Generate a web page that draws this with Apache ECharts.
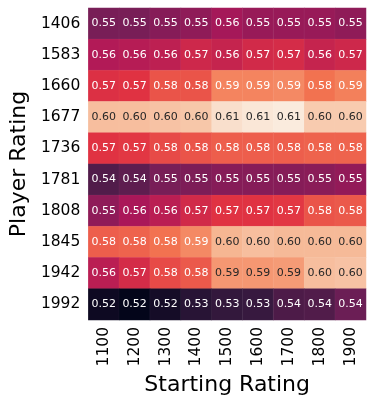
<!DOCTYPE html>
<html>
<head>
<meta charset="utf-8">
<script src="https://cdn.jsdelivr.net/npm/echarts@6/dist/echarts.min.js"></script>
<style>
html,body{margin:0;padding:0;background:#fff;}
#chart{width:374px;height:405px;}
</style>
</head>
<body>
<div id="chart"></div>
<script>
const startingRatings = ['1100','1200','1300','1400','1500','1600','1700','1800','1900'];
const playerRatings = ['1406','1583','1660','1677','1736','1781','1808','1845','1942','1992'];
const row1406 = [0.546,0.546,0.549,0.551,0.556,0.553,0.553,0.553,0.551];
const row1583 = [0.559,0.560,0.562,0.566,0.564,0.567,0.568,0.564,0.566];
const row1660 = [0.570,0.571,0.578,0.578,0.588,0.588,0.589,0.584,0.587];
const row1677 = [0.601,0.601,0.602,0.603,0.609,0.611,0.612,0.604,0.604];
const row1736 = [0.571,0.572,0.576,0.578,0.580,0.580,0.580,0.581,0.581];
const row1781 = [0.537,0.540,0.546,0.547,0.549,0.549,0.549,0.550,0.552];
const row1808 = [0.551,0.557,0.561,0.567,0.571,0.571,0.572,0.578,0.579];
const row1845 = [0.580,0.581,0.584,0.589,0.599,0.601,0.600,0.600,0.600];
const row1942 = [0.561,0.568,0.576,0.579,0.592,0.592,0.593,0.601,0.602];
const row1992 = [0.520,0.517,0.522,0.527,0.530,0.531,0.536,0.537,0.543];
const rows = [row1406,row1583,row1660,row1677,row1736,row1781,row1808,row1845,row1942,row1992];

const rocket = ['#03051a','#35193e','#701f57','#ad1759','#e13342','#f37651','#f6b48f','#faebdd'];
const all = rows.flat();
const vmin = Math.min(...all), vmax = Math.max(...all);
const textThreshold = 0.5905;

const data = [];
rows.forEach((r, yi) => r.forEach((v, xi) => {
  data.push({
    value: [xi, yi, v],
    label: { color: v > textThreshold ? '#262626' : '#ffffff' }
  });
}));

const font = 'DejaVu Sans';
const chart = echarts.init(document.getElementById('chart'));
chart.setOption({
  animation: false,
  backgroundColor: '#ffffff',
  grid: { left: 84, top: 8, width: 282, height: 312 },
  xAxis: {
    type: 'category',
    data: startingRatings,
    name: 'Starting Rating',
    nameLocation: 'middle',
    nameGap: 47,
    nameTextStyle: { fontFamily: font, fontSize: 22, color: '#000' },
    axisLine: { show: false },
    axisTick: { show: false },
    splitLine: { show: false },
    axisLabel: { rotate: 90, margin: 7, fontFamily: font, fontSize: 15.5, color: '#000' }
  },
  yAxis: {
    type: 'category',
    data: playerRatings,
    inverse: true,
    name: 'Player Rating',
    nameLocation: 'middle',
    nameGap: 56,
    nameTextStyle: { fontFamily: font, fontSize: 22, color: '#000' },
    axisLine: { show: false },
    axisTick: { show: false },
    splitLine: { show: false },
    axisLabel: { margin: 8, fontFamily: font, fontSize: 15.5, color: '#000' }
  },
  visualMap: {
    show: false,
    type: 'continuous',
    min: vmin,
    max: vmax,
    dimension: 2,
    inRange: { color: rocket }
  },
  series: [{
    type: 'heatmap',
    data: data,
    itemStyle: { borderColor: 'rgba(255,255,255,0.08)', borderWidth: 0.5 },
    label: {
      show: true,
      fontFamily: font,
      fontSize: 11,
      formatter: p => p.value[2].toFixed(2)
    },
    emphasis: { disabled: true }
  }]
});
</script>
</body>
</html>
